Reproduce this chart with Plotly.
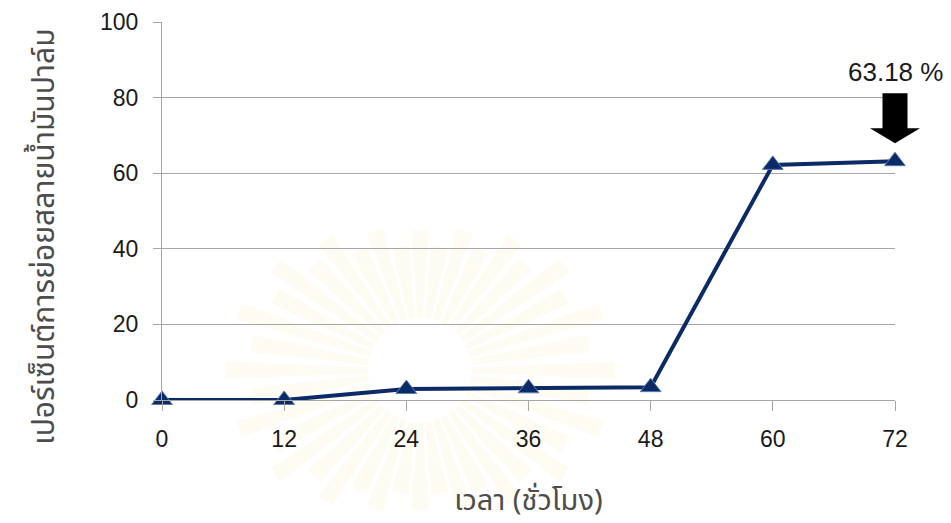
import numpy as np
import plotly.graph_objects as go

# Degradation of palm oil over time
hours = [0, 12, 24, 36, 48, 60, 72]
degradation_pct = [0.0, 0.0, 2.9, 3.1, 3.4, 62.2, 63.18]
x_ticks = [0, 12, 24, 36, 48, 60, 72]
y_ticks = [0, 20, 40, 60, 80, 100]
x_range = [0, 72]
y_range = [0, 100]

x_title = "เวลา (ชั่วโมง)"
y_title = "เปอร์เซ็นต์การย่อยสลายน้ำมันปาล์ม"
peak_label = "63.18 %"

NAVY = "#0b2a66"
GRID = "#a6a6a6"
TICK_FONT = dict(family="Liberation Sans, Arial, sans-serif", size=23, color="#1a1a1a")
THAI_FONT = "Noto Sans Thai, Noto Sans, DejaVu Sans, sans-serif"
TITLE_COLOR = "#4d4d4d"

fig = go.Figure()

fig.add_trace(go.Scatter(
    x=hours, y=degradation_pct,
    mode="lines+markers",
    line=dict(color=NAVY, width=4),
    marker=dict(symbol="triangle-up", size=18, color=NAVY,
                line=dict(color="#5a7cb0", width=1)),
    cliponaxis=False,
    showlegend=False,
))

# Faint sunburst emblem in the background
rays = []
n_rays = 40
for i in range(n_rays):
    th = 2 * np.pi * i / n_rays
    outer = np.hypot(195 * np.cos(th), 140 * np.sin(th)) * (1.0 if i % 2 == 0 else 0.88)
    inner = 52
    w_in, w_out = 3.0, 8.5
    c, s = np.cos(th), np.sin(th)
    px, py = -s, c
    pts = [
        (inner * c + w_in * px, inner * s + w_in * py),
        (outer * c + w_out * px, outer * s + w_out * py),
        (outer * c - w_out * px, outer * s - w_out * py),
        (inner * c - w_in * px, inner * s - w_in * py),
    ]
    rays.append("M " + " L ".join(f"{a:.1f},{b:.1f}" for a, b in pts) + " Z")

fig.add_shape(
    type="path", path=" ".join(rays),
    xref="paper", yref="paper", xsizemode="pixel", ysizemode="pixel",
    xanchor=0.352, yanchor=0.079,
    fillcolor="rgba(248, 222, 160, 0.13)", line=dict(width=0),
    layer="below",
)

# Block arrow pointing at the final value (paper refs so it is not clipped)
peak_xp = (hours[-1] - x_range[0]) / (x_range[1] - x_range[0])
peak_yp = (degradation_pct[-1] - y_range[0]) / (y_range[1] - y_range[0])
arrow_path = "M 0,18 L 25,33 L 12.5,33 L 12.5,68 L -12.5,68 L -12.5,33 L -25,33 Z"
fig.add_shape(
    type="path", path=arrow_path,
    xref="paper", yref="paper", xsizemode="pixel", ysizemode="pixel",
    xanchor=peak_xp, yanchor=peak_yp,
    fillcolor="black", line=dict(width=0),
)
fig.add_annotation(
    x=hours[-1], y=degradation_pct[-1], text=peak_label,
    showarrow=False, yshift=89, xshift=0,
    font=dict(family="Liberation Sans, Arial, sans-serif", size=26, color="#1a1a1a"),
)

# Rotated y-axis title
fig.add_annotation(
    x=-0.16, y=0.431, xref="paper", yref="paper",
    xanchor="center", yanchor="middle",
    text=y_title, textangle=-90, showarrow=False,
    font=dict(family=THAI_FONT, size=30, color=TITLE_COLOR),
)

fig.update_xaxes(
    range=x_range, tickvals=x_ticks, ticktext=[str(v) for v in x_ticks],
    showgrid=False, zeroline=False, automargin=False,
    showline=True, linecolor=GRID, linewidth=1,
    ticks="outside", ticklen=10, tickcolor=GRID, tickwidth=1,
    tickfont=TICK_FONT, ticklabelstandoff=8,
    title=dict(text=x_title, font=dict(family=THAI_FONT, size=29, color=TITLE_COLOR), standoff=42),
)
fig.update_yaxes(
    range=y_range, tickvals=y_ticks, automargin=False,
    showgrid=True, gridcolor=GRID, gridwidth=1, zeroline=False,
    showline=True, linecolor=GRID, linewidth=1,
    ticks="outside", ticklen=8, tickcolor=GRID, tickwidth=1,
    tickfont=TICK_FONT, ticklabelstandoff=10,
)

fig.update_layout(
    width=951, height=523,
    margin=dict(l=162, r=56, t=22, b=123),
    paper_bgcolor="white", plot_bgcolor="rgba(0,0,0,0)",
)

fig.write_html("out.html")
